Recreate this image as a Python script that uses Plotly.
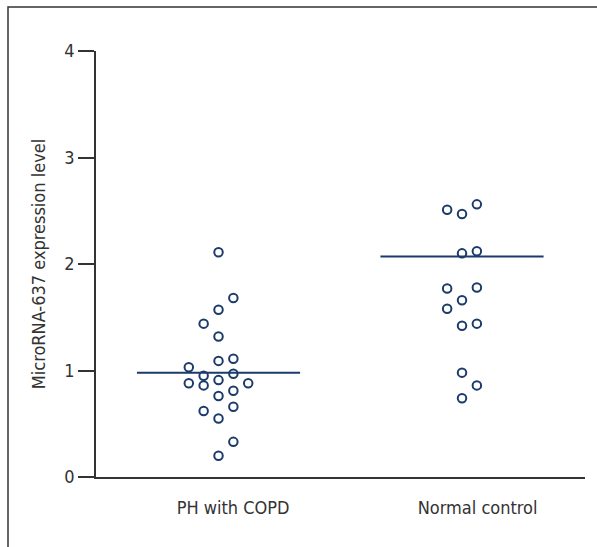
import plotly.graph_objects as go

# ---- data ----
categories = ["PH with COPD", "Normal control"]
ph_values = [2.11, 1.68, 1.57, 1.44, 1.32, 1.11, 1.09, 1.03, 0.97, 0.95, 0.91,
             0.88, 0.88, 0.86, 0.81, 0.76, 0.66, 0.62, 0.55, 0.33, 0.20]
ph_slots = [0, 1, 0, -1, 0, 1, 0, -2, 1, -1, 0,
            -2, 2, -1, 1, 0, 1, -1, 0, 1, 0]
nc_values = [2.56, 2.51, 2.47, 2.12, 2.10, 1.78, 1.77, 1.66, 1.58, 1.44, 1.42,
             0.98, 0.86, 0.74]
nc_slots = [1, -1, 0, 1, 0, 1, -1, 0, -1, 1, 0, 0, 1, 0]
group_lines = [0.98, 2.07]
y_ticks = [0, 1, 2, 3, 4]
y_title = "MicroRNA-637 expression level"

# ---- style ----
FONT = "DejaVu Sans Condensed, Liberation Sans Narrow, Arial Narrow, sans-serif"
DOT = "#1b3b6a"
AX = "#333333"
SLOT_W = 0.061
HALF = 0.335

fig = go.Figure()
for i, (vals, slots) in enumerate([(ph_values, ph_slots), (nc_values, nc_slots)]):
    cx = i + 1
    fig.add_trace(go.Scatter(
        x=[cx + s * SLOT_W for s in slots], y=vals, mode="markers",
        marker=dict(symbol="circle-open", size=8.5, color=DOT,
                    line=dict(width=2, color=DOT)),
        showlegend=False, hoverinfo="y"))
    fig.add_trace(go.Scatter(
        x=[cx - HALF, cx + HALF], y=[group_lines[i]] * 2, mode="lines",
        line=dict(color=DOT, width=2), showlegend=False, hoverinfo="skip"))

W, H = 597, 547
L, R, T, B = 96, 12, 51, 70
pw, ph = W - L - R, H - T - B

fig.update_layout(
    width=W, height=H,
    margin=dict(l=L, r=R, t=T, b=B),
    paper_bgcolor="white", plot_bgcolor="white",
    font=dict(family=FONT, size=18, color=AX),
    xaxis=dict(range=[0.4969, 2.5051], tickvals=[1.06, 2.064], ticktext=categories,
               showline=True, linecolor=AX, linewidth=1.5, showgrid=False,
               zeroline=False, ticks="outside", ticklen=14,
               tickcolor="rgba(0,0,0,0)", tickfont=dict(size=18, color=AX)),
    yaxis=dict(range=[0, 4], tickvals=y_ticks, showline=True, linecolor=AX,
               linewidth=1.5, showgrid=False, zeroline=False, ticks="outside",
               ticklen=16, tickwidth=1.5, tickcolor=AX,
               tickfont=dict(size=18, color=AX),
               title=dict(text=y_title, font=dict(size=18, color=AX), standoff=14)),
)

# frame (left and top edges of the figure box)
fx = (8 - L) / pw
fy = (H - B - 7) / ph
fy_bot = (H - B - H - 5) / ph
fig.add_shape(type="path", xref="paper", yref="paper",
              path=f"M {fx} {fy_bot} L {fx} {fy} L 1.05 {fy}",
              line=dict(color=AX, width=1.5))

fig.write_html("out.html")
